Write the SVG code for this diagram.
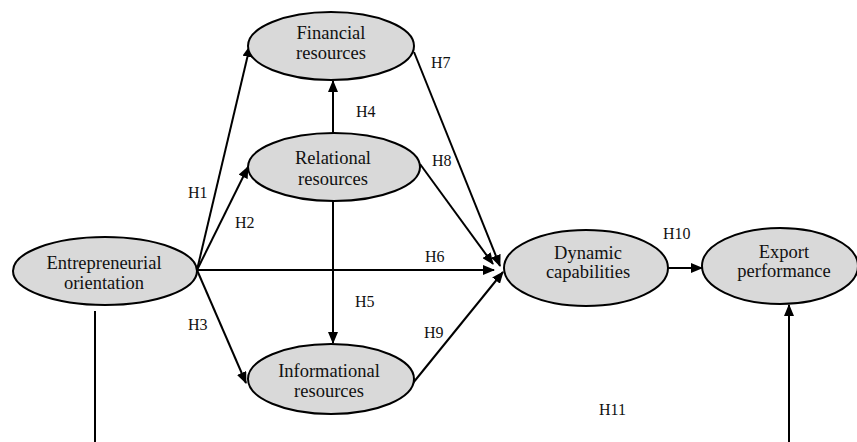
<svg xmlns="http://www.w3.org/2000/svg" width="857" height="442" viewBox="0 0 857 442">
<defs>
<marker id="ah" markerUnits="userSpaceOnUse" markerWidth="12" markerHeight="10" refX="11" refY="5" orient="auto">
<path d="M0,0 L12,5 L0,10 Z" fill="#000"/>
</marker>
<style>
.n ellipse{fill:#d9d9d9;stroke:#000;stroke-width:2}
.n text{font-family:'Liberation Serif','DejaVu Serif',serif;font-size:18.5px;fill:#111;text-anchor:middle}
.c line,.c path{stroke:#000;stroke-width:2;fill:none}
.a{marker-end:url(#ah)}
.lbl{font-family:'Liberation Serif','DejaVu Serif',serif;font-size:16px;fill:#111}
</style>
</defs>
<rect width="857" height="442" fill="#fff"/>
<g class="c" id="connectors">
<line class="a" x1="197" y1="270" x2="250" y2="46"/>
<line class="a" x1="197" y1="270" x2="248" y2="167"/>
<line class="a" x1="197" y1="270" x2="494" y2="270"/>
<line class="a" x1="197" y1="270" x2="246" y2="383"/>
<line class="a" x1="333" y1="134" x2="333" y2="81"/>
<line class="a" x1="333" y1="201" x2="333" y2="343"/>
<line class="a" x1="414" y1="52" x2="500" y2="266"/>
<line class="a" x1="420" y1="164" x2="493" y2="264"/>
<line class="a" x1="413" y1="383" x2="503" y2="272"/>
<line class="a" x1="668" y1="268" x2="702" y2="268"/>
<line x1="95" y1="311" x2="95" y2="442"/>
<line class="a" x1="789" y1="442" x2="789" y2="305"/>
</g>
<g class="n" id="financial"><ellipse cx="331" cy="46" rx="83" ry="34"/><text x="331" y="39">Financial</text><text x="331" y="59">resources</text></g>
<g class="n" id="relational"><ellipse cx="334" cy="167" rx="86" ry="34"/><text x="333" y="164">Relational</text><text x="333" y="185">resources</text></g>
<g class="n" id="entrepreneurial"><ellipse cx="105" cy="271" rx="92" ry="34"/><text x="104" y="269">Entrepreneurial</text><text x="104" y="289">orientation</text></g>
<g class="n" id="dynamic"><ellipse cx="586" cy="268" rx="82" ry="38"/><text x="588" y="259">Dynamic</text><text x="588" y="278">capabilities</text></g>
<g class="n" id="export"><ellipse cx="780" cy="266" rx="78" ry="38"/><text x="784" y="258">Export</text><text x="784" y="277">performance</text></g>
<g class="n" id="informational"><ellipse cx="331" cy="379" rx="83" ry="35"/><text x="329" y="377">Informational</text><text x="329" y="397">resources</text></g>
<g id="labels">
<text class="lbl" x="188" y="198">H1</text>
<text class="lbl" x="235" y="228">H2</text>
<text class="lbl" x="188" y="330">H3</text>
<text class="lbl" x="356" y="117">H4</text>
<text class="lbl" x="355" y="307">H5</text>
<text class="lbl" x="425" y="262">H6</text>
<text class="lbl" x="431" y="68">H7</text>
<text class="lbl" x="432" y="166">H8</text>
<text class="lbl" x="424" y="338">H9</text>
<text class="lbl" x="663" y="239">H10</text>
<text class="lbl" x="599" y="415">H11</text>
</g>
</svg>
